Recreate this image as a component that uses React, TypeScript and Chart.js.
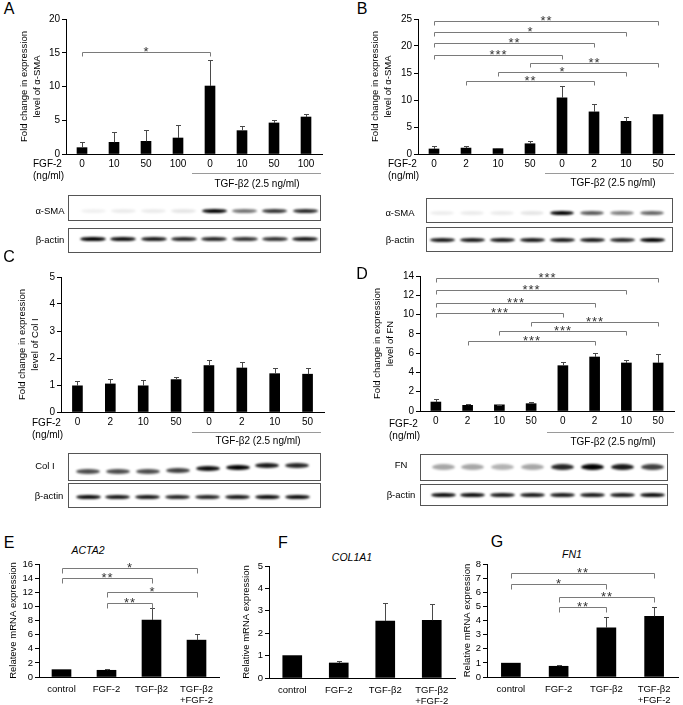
import React, { useEffect, useRef } from "react";
import { Chart, registerables } from "chart.js";
Chart.register(...registerables);

const FONT = "'Liberation Sans', Arial, Helvetica, sans-serif";

// ---------- data ----------
const catsA = ["0", "10", "50", "100", "0", "10", "50", "100"];
const valsA = [0.94, 1.73, 1.88, 2.37, 10.07, 3.46, 4.6, 5.48];
const errA = [0.79, 1.53, 1.62, 1.98, 3.83, 0.69, 0.44, 0.4];
const sigA: [number, number, number, string][] = [[0, 4, 15.16, "*"]];

const catsB = ["0", "2", "10", "50", "0", "2", "10", "50"];
const valsB = [0.93, 1.1, 0.99, 1.9, 10.4, 7.8, 6.05, 7.3];
const errB = [0.55, 0.44, 0.11, 0.5, 2.2, 1.4, 0.75, 0.1];
const sigB: [number, number, number, string][] = [
  [0, 7, 24.7, "**"], [0, 6, 22.5, "*"], [0, 5, 20.5, "**"], [0, 4, 18.4, "***"],
  [3, 7, 16.8, "**"], [2, 6, 15.25, "*"], [1, 5, 13.6, "**"],
];

const catsC = ["0", "2", "10", "50", "0", "2", "10", "50"];
const valsC = [0.97, 1.04, 0.97, 1.2, 1.72, 1.63, 1.42, 1.4];
const errC = [0.16, 0.18, 0.2, 0.1, 0.21, 0.23, 0.21, 0.23];
const sigC: [number, number, number, string][] = [];

const catsD = ["0", "2", "10", "50", "0", "2", "10", "50"];
const valsD = [0.93, 0.59, 0.64, 0.76, 4.7, 5.6, 4.98, 4.98];
const errD = [0.35, 0.17, 0.02, 0.14, 0.35, 0.45, 0.35, 0.97];
const sigD: [number, number, number, string][] = [
  [0, 7, 13.75, "***"], [0, 6, 12.5, "***"], [0, 5, 11.2, "***"], [0, 4, 10.15, "***"],
  [3, 7, 9.24, "***"], [2, 6, 8.27, "***"], [1, 5, 7.31, "***"],
];

const catsEFG: (string | string[])[] = ["control", "FGF-2", "TGF-β2", ["TGF-β2", "+FGF-2"]];
const valsE = [1.04, 0.95, 8.07, 5.22];
const errE = [0, 0.19, 1.63, 0.91];
const sigE: [number, number, number, string][] = [
  [0, 3, 15.5, "*"], [0, 2, 14.0, "**"], [1, 3, 12.0, "*"], [1, 2, 10.5, "**"],
];
const valsF = [1.0, 0.67, 2.54, 2.58];
const errF = [0, 0.11, 0.82, 0.72];
const sigF: [number, number, number, string][] = [];
const valsG = [0.98, 0.76, 3.48, 4.3];
const errG = [0, 0.1, 0.74, 0.69];
const sigG: [number, number, number, string][] = [
  [0, 3, 7.33, "**"], [0, 2, 6.6, "*"], [1, 3, 5.66, "**"], [1, 2, 4.94, "**"],
];

// western blot band intensities (8 lanes)
const blotA_SMA = [0.06, 0.08, 0.08, 0.1, 1, 0.55, 0.8, 0.85];
const blotA_act = [1, 0.95, 0.9, 0.85, 0.85, 0.8, 0.8, 0.9];
const blotB_SMA = [0.07, 0.08, 0.08, 0.1, 1, 0.65, 0.5, 0.6];
const blotB_act = [0.9, 0.9, 0.9, 0.9, 0.9, 0.9, 0.85, 1];
const blotC_col = [0.7, 0.7, 0.7, 0.75, 0.95, 1, 0.9, 0.85];
const blotC_act = [0.95, 0.9, 0.9, 0.85, 0.85, 0.9, 0.95, 0.95];
const blotD_fn = [0.35, 0.35, 0.3, 0.35, 0.85, 1, 0.9, 0.75];
const blotD_act = [0.95, 0.95, 0.9, 0.9, 0.9, 0.9, 0.9, 0.95];

// ---------- chart component ----------
type Geo = { axisX: number; top: number; bottom: number; right: number; titleX: number; xH: number };

function BarChart(props: {
  labels: (string | string[])[];
  values: number[];
  errors: number[];
  sig: [number, number, number, string][];
  yMax: number;
  yStep: number;
  yTitle: string | string[];
  geo: Geo;
  barW: number;
  tickSize: number;
  catSize: number;
  titleSize: number;
  titleLH: number;
  xPad: number;
  sigTick: number;
}) {
  const ref = useRef<HTMLCanvasElement>(null);
  const { geo } = props;
  const padT = 10;
  const padR = 8;
  const lh = props.titleSize * props.titleLH;
  const CL = Math.round(geo.titleX - lh / 2 - 2);
  const CT = geo.top - padT;
  const W = geo.right + padR - CL;
  const H = geo.bottom + geo.xH - CT;

  useEffect(() => {
    const errPlugin = {
      id: "errbars",
      afterDatasetsDraw(chart: any) {
        const { ctx } = chart;
        const y = chart.scales.y;
        const meta = chart.getDatasetMeta(0);
        ctx.save();
        ctx.strokeStyle = "#4a4a4a";
        ctx.lineWidth = 1;
        meta.data.forEach((bar: any, i: number) => {
          const e = props.errors[i];
          if (!e) return;
          const v = props.values[i];
          const x = Math.round(bar.x) + 0.5;
          const y0 = y.getPixelForValue(v);
          const y1 = Math.round(y.getPixelForValue(v + e)) + 0.5;
          ctx.beginPath();
          ctx.moveTo(x, y0);
          ctx.lineTo(x, y1);
          ctx.moveTo(x - 2.5, y1);
          ctx.lineTo(x + 2.5, y1);
          ctx.stroke();
        });
        ctx.restore();
      },
    };
    const sigPlugin = {
      id: "sig",
      afterDatasetsDraw(chart: any) {
        const { ctx } = chart;
        const x = chart.scales.x;
        const y = chart.scales.y;
        ctx.save();
        props.sig.forEach(([a, b, lv, s]) => {
          const xa = Math.round(x.getPixelForValue(a)) + 0.5;
          const xb = Math.round(x.getPixelForValue(b)) + 0.5;
          const yy = Math.round(y.getPixelForValue(lv)) + 0.5;
          ctx.strokeStyle = "#7a7a7a";
          ctx.lineWidth = 1;
          ctx.beginPath();
          ctx.moveTo(xa, yy + props.sigTick);
          ctx.lineTo(xa, yy);
          ctx.lineTo(xb, yy);
          ctx.lineTo(xb, yy + props.sigTick);
          ctx.stroke();
          ctx.fillStyle = "#333";
          ctx.font = `13px ${FONT}`;
          (ctx as any).letterSpacing = "1px";
          ctx.textAlign = "center";
          ctx.textBaseline = "alphabetic";
          ctx.fillText(s, (xa + xb) / 2, yy + 3);
        });
        ctx.restore();
      },
    };

    const chart = new Chart(ref.current!, {
      type: "bar",
      data: {
        labels: props.labels as any,
        datasets: [
          {
            data: props.values,
            backgroundColor: "#000",
            borderWidth: 0,
            barThickness: props.barW,
          },
        ],
      },
      options: {
        responsive: false,
        animation: false,
        devicePixelRatio: 1,
        layout: { padding: { top: padT, right: padR, left: 0, bottom: 0 } },
        plugins: { legend: { display: false }, tooltip: { enabled: false } },
        scales: {
          x: {
            type: "category",
            offset: true,
            grid: { display: false, drawTicks: false, tickLength: 0 },
            border: { display: true, color: "#000", width: 1 },
            ticks: {
              color: "#000",
              padding: props.xPad,
              maxRotation: 0,
              autoSkip: false,
              font: { family: FONT, size: props.catSize, lineHeight: 1.15 },
            },
            afterFit: (s: any) => {
              s.height = geo.xH;
            },
          },
          y: {
            min: 0,
            max: props.yMax,
            ticks: {
              stepSize: props.yStep,
              autoSkip: false,
              color: "#000",
              padding: 2,
              font: { family: FONT, size: props.tickSize },
            },
            grid: { drawOnChartArea: false, drawTicks: true, tickLength: 4, color: "#000" },
            border: { display: true, color: "#000", width: 1 },
            title: {
              display: true,
              text: props.yTitle as any,
              color: "#000",
              font: { family: FONT, size: props.titleSize, lineHeight: props.titleLH },
              padding: { top: 2, bottom: 0 },
            },
            afterFit: (s: any) => {
              s.width = geo.axisX - CL;
            },
          },
        },
      },
      plugins: [errPlugin, sigPlugin],
    } as any);
    return () => chart.destroy();
  }, []);

  return (
    <canvas
      ref={ref}
      width={W}
      height={H}
      style={{ position: "absolute", left: CL, top: CT, width: W, height: H }}
    />
  );
}

// ---------- helpers ----------
function T(p: { x: number; y: number; text: string; size?: number; italic?: boolean; align?: "left" | "center" }) {
  const align = p.align || "center";
  return (
    <div
      style={{
        position: "absolute",
        left: p.x,
        top: p.y,
        transform: align === "center" ? "translate(-50%, -50%)" : "translate(0, -50%)",
        fontFamily: FONT,
        fontSize: p.size || 10,
        fontStyle: p.italic ? "italic" : "normal",
        lineHeight: 1,
        whiteSpace: "nowrap",
        color: "#000",
      }}
    >
      {p.text}
    </div>
  );
}

function HLine(p: { x1: number; x2: number; y: number }) {
  return (
    <div
      style={{
        position: "absolute",
        left: p.x1,
        top: p.y,
        width: p.x2 - p.x1,
        height: 1,
        background: "#9a9a9a",
      }}
    />
  );
}

function Blot(p: {
  x: number; y: number; w: number; h: number;
  first: number; step: number; bandY: number; bandW: number; bandH: number;
  levels: number[]; offsets?: number[]; blur: number;
}) {
  return (
    <div
      style={{
        position: "absolute",
        left: p.x,
        top: p.y,
        width: p.w,
        height: p.h,
        border: "1px solid #555",
        boxSizing: "border-box",
        background: "#fff",
        overflow: "hidden",
      }}
    >
      {p.levels.map((lv, i) => (
        <div
          key={i}
          style={{
            position: "absolute",
            left: p.first + i * p.step - p.bandW / 2 - p.x - 1,
            top: p.bandY + (p.offsets ? p.offsets[i] : 0) - p.bandH / 2 - p.y - 1,
            width: p.bandW,
            height: p.bandH,
            borderRadius: "50%",
            background: `rgba(0,0,0,${lv})`,
            filter: `blur(${p.blur}px)`,
          }}
        />
      ))}
    </div>
  );
}

const titleA = ["Fold change in expression", "level of α-SMA"];
const titleC = ["Fold change in expression", "level of Col I"];
const titleD = ["Fold change in expression", "level of FN"];
const tgf = "TGF-β2 (2.5 ng/ml)";

export default function App() {
  const common = { barW: 10, tickSize: 10, catSize: 10, titleSize: 9.5, titleLH: 1.35, xPad: 4, sigTick: 4 };
  const commonE = { barW: 19, tickSize: 9.5, catSize: 9.5, titleSize: 9.5, titleLH: 1.2, xPad: 6.5, sigTick: 5 };
  return (
    <div
      style={{
        position: "fixed",
        left: 0,
        top: 0,
        width: 683,
        height: 705,
        overflow: "hidden",
        background: "#fff",
      }}
    >
      {/* Panel A */}
      <T x={9} y={9} text="A" size={16} />
      <BarChart {...common} labels={catsA} values={valsA} errors={errA} sig={sigA} yMax={20} yStep={5}
        yTitle={titleA} geo={{ axisX: 66, top: 19, bottom: 154, right: 322, titleX: 24, xH: 16 }} />
      <T x={33} y={164} text="FGF-2" align="left" />
      <T x={33} y={176} text="(ng/ml)" align="left" />
      <HLine x1={192} x2={321} y={173} />
      <T x={257} y={184} text={tgf} />
      <Blot x={68} y={195} w={253} h={26} first={93} step={30.3} bandY={211} bandW={25} bandH={4} levels={blotA_SMA} blur={0.8} />
      <Blot x={68} y={228} w={253} h={25} first={93} step={30.3} bandY={239} bandW={26} bandH={4.5} levels={blotA_act} blur={0.8} />
      <T x={50} y={211} text="α-SMA" size={9.5} />
      <T x={50} y={240} text="β-actin" size={9.5} />

      {/* Panel B */}
      <T x={362} y={9} text="B" size={16} />
      <BarChart {...common} labels={catsB} values={valsB} errors={errB} sig={sigB} yMax={25} yStep={5}
        yTitle={titleA} geo={{ axisX: 418, top: 19, bottom: 154, right: 674, titleX: 375, xH: 16 }} />
      <T x={388} y={164} text="FGF-2" align="left" />
      <T x={388} y={176} text="(ng/ml)" align="left" />
      <HLine x1={545} x2={674} y={173} />
      <T x={613} y={183} text={tgf} />
      <Blot x={426} y={198} w={247} h={25} first={442} step={30} bandY={213} bandW={24} bandH={4} levels={blotB_SMA} blur={0.8} />
      <Blot x={426} y={227} w={247} h={25} first={442} step={30} bandY={240} bandW={25} bandH={4} levels={blotB_act} blur={0.8} />
      <T x={400} y={213} text="α-SMA" size={9.5} />
      <T x={400} y={240} text="β-actin" size={9.5} />

      {/* Panel C */}
      <T x={9} y={257} text="C" size={16} />
      <BarChart {...common} labels={catsC} values={valsC} errors={errC} sig={sigC} yMax={5} yStep={1}
        yTitle={titleC} geo={{ axisX: 61, top: 277, bottom: 412, right: 324, titleX: 22, xH: 16 }} />
      <T x={32} y={423} text="FGF-2" align="left" />
      <T x={32} y={435} text="(ng/ml)" align="left" />
      <HLine x1={192} x2={321} y={432} />
      <T x={258} y={441} text={tgf} />
      <Blot x={68} y={453} w={253} h={28} first={88} step={29.9} bandY={469} bandW={24} bandH={5}
        offsets={[2, 2, 2, 1, -1, -2, -4, -4]} levels={blotC_col} blur={0.9} />
      <Blot x={68} y={483} w={253} h={25} first={88} step={29.9} bandY={497} bandW={25} bandH={4.5} levels={blotC_act} blur={0.8} />
      <T x={45} y={466} text="Col I" size={9.5} />
      <T x={49} y={496} text="β-actin" size={9.5} />

      {/* Panel D */}
      <T x={362} y={274} text="D" size={16} />
      <BarChart {...common} labels={catsD} values={valsD} errors={errD} sig={sigD} yMax={14} yStep={2}
        yTitle={titleD} geo={{ axisX: 420, top: 276, bottom: 411, right: 674, titleX: 377, xH: 16 }} />
      <T x={389} y={424} text="FGF-2" align="left" />
      <T x={389} y={436} text="(ng/ml)" align="left" />
      <HLine x1={547} x2={674} y={432} />
      <T x={613} y={442} text={tgf} />
      <Blot x={420} y={454} w={248} h={27} first={443} step={29.9} bandY={467} bandW={23} bandH={6} levels={blotD_fn} blur={1.2} />
      <Blot x={420} y={484} w={248} h={22} first={443} step={29.9} bandY={495} bandW={25} bandH={4.5} levels={blotD_act} blur={0.8} />
      <T x={401} y={465} text="FN" size={9.5} />
      <T x={401} y={495} text="β-actin" size={9.5} />

      {/* Panel E */}
      <T x={9} y={543} text="E" size={16} />
      <T x={88} y={550} text="ACTA2" italic size={10.5} />
      <BarChart {...commonE} labels={catsEFG} values={valsE} errors={errE} sig={sigE} yMax={16} yStep={2}
        yTitle="Relateve mRNA expression" geo={{ axisX: 39, top: 564, bottom: 677, right: 219, titleX: 14, xH: 30 }} />

      {/* Panel F */}
      <T x={283} y={543} text="F" size={16} />
      <T x={352} y={557} text="COL1A1" italic size={10.5} />
      <BarChart {...commonE} labels={catsEFG} values={valsF} errors={errF} sig={sigF} yMax={5} yStep={1}
        yTitle="Relative mRNA expression" geo={{ axisX: 269, top: 566, bottom: 678, right: 455, titleX: 247, xH: 30 }} />

      {/* Panel G */}
      <T x={497} y={542} text="G" size={16} />
      <T x={572} y={554} text="FN1" italic size={10.5} />
      <BarChart {...commonE} labels={catsEFG} values={valsG} errors={errG} sig={sigG} yMax={8} yStep={1}
        yTitle="Relative mRNA expression" geo={{ axisX: 487, top: 564, bottom: 677, right: 678, titleX: 468, xH: 30 }} />
    </div>
  );
}
